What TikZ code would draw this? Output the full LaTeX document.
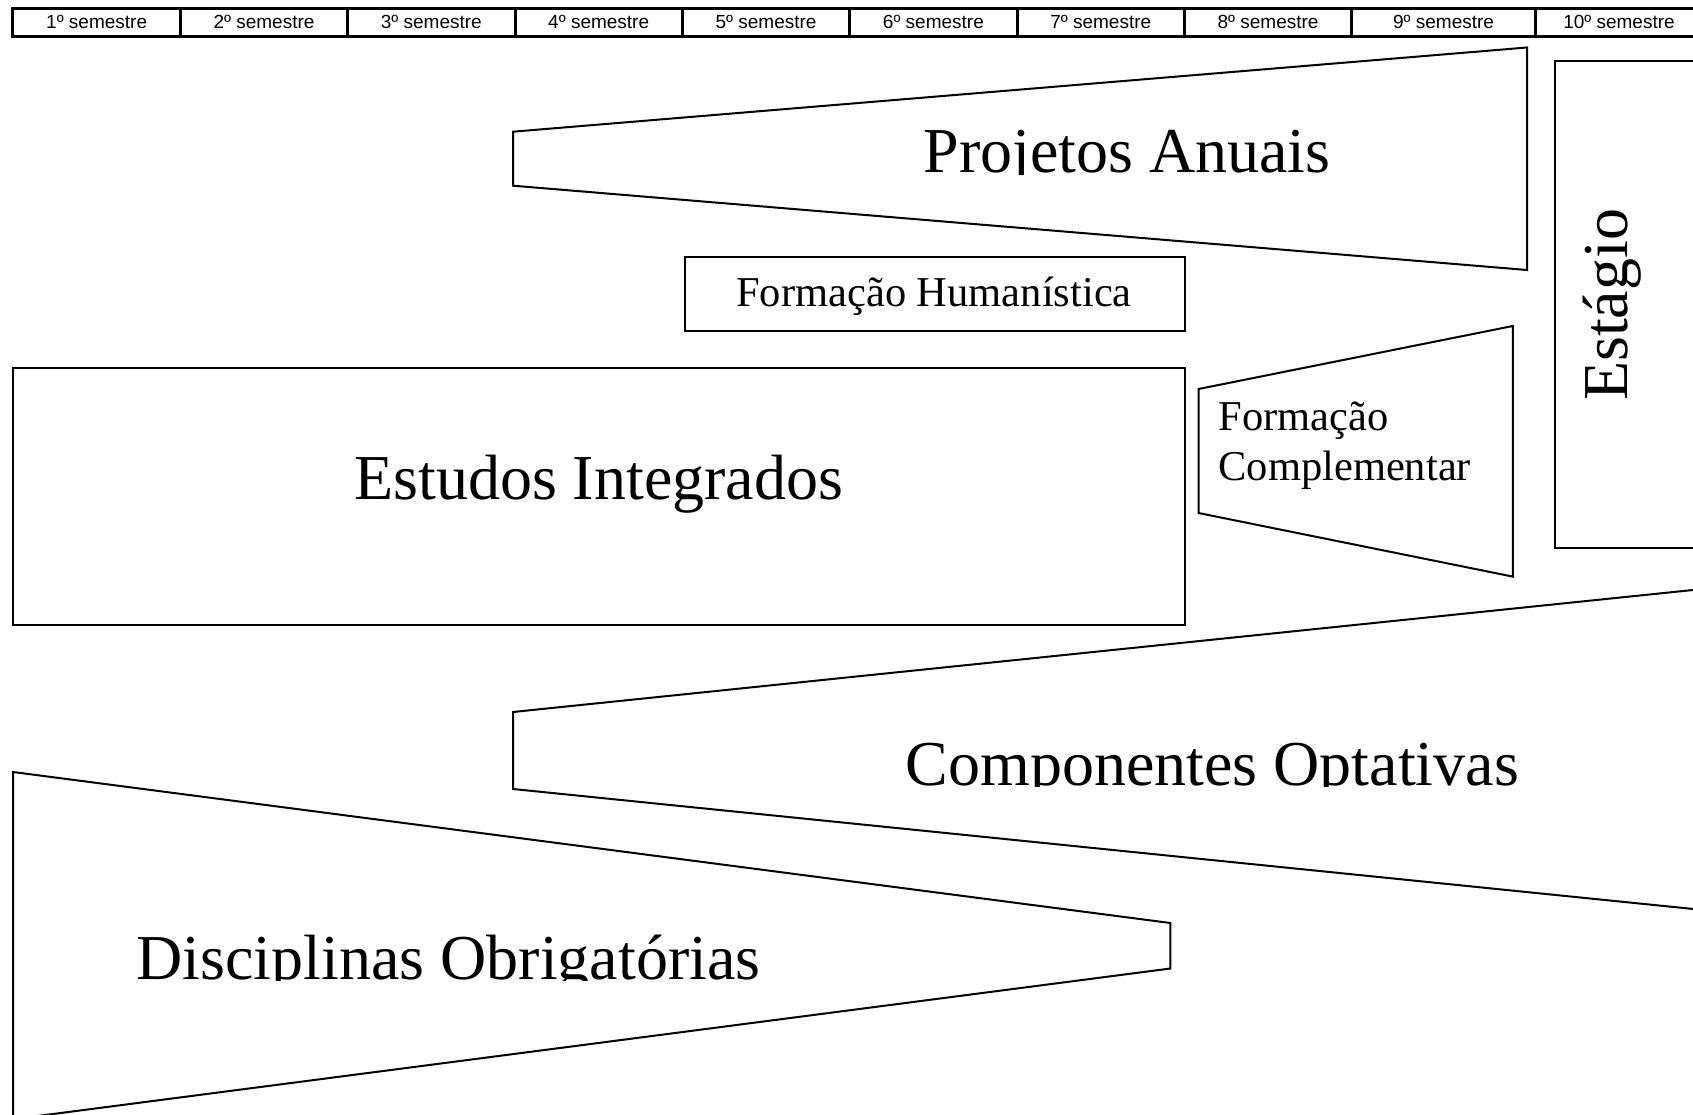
\documentclass[tikz,border=0pt]{standalone}
\usepackage{fontspec}
\setmainfont{Liberation Serif}
\newfontfamily\hdrfont{Liberation Sans}
\begin{document}
\begin{tikzpicture}[x=1pt,y=-1pt,
  semcell/.style={draw, line width=3pt, minimum height=28pt, minimum width=167.35pt, inner sep=0pt, font=\hdrfont\fontsize{19}{19}\selectfont},
  shapeline/.style={draw, line width=2pt, line join=miter},
  bigtext/.style={inner sep=0pt, font=\fontsize{64}{64}\selectfont},
  midtext/.style={inner sep=0pt, font=\fontsize{42.5}{42.5}\selectfont}]
\useasboundingbox (0,0) rectangle (1693,1115);
\clip (0,0) rectangle (1693,1115);

% header row
\node[semcell] (s1) at (96.65,22.2) {1º semestre};
\node[semcell] (s2) at (264.0,22.2) {2º semestre};
\node[semcell] (s3) at (431.35,22.2) {3º semestre};
\node[semcell] (s4) at (598.7,22.2) {4º semestre};
\node[semcell] (s5) at (766.05,22.2) {5º semestre};
\node[semcell] (s6) at (933.4,22.2) {6º semestre};
\node[semcell] (s7) at (1100.75,22.2) {7º semestre};
\node[semcell] (s8) at (1268.1,22.2) {8º semestre};
\node[semcell, minimum width=183.5pt] (s9) at (1443.55,22.2) {9º semestre};
\node[semcell] (s10) at (1619.0,22.2) {10º semestre};

% Projetos Anuais
\draw[shapeline] (513,131.7) -- (1527,47.5) -- (1527,270) -- (513,185.7) -- cycle;
\begin{scope}
  \clip (513,40) rectangle (1527,174.3);
  \node[bigtext, anchor=base] (pa) at (1127,172.7) {Projetos Anuais};
\end{scope}

% Formação Humanística
\draw[shapeline] (684.5,257) rectangle (1184.5,330.5);
\node[midtext, anchor=base] (fh) at (934,306.7) {Formação Humanística};

% Estudos Integrados
\draw[shapeline] (13,368) rectangle (1184.5,625);
\node[bigtext, anchor=base] (ei) at (598.7,499) {Estudos Integrados};

% Formação Complementar
\draw[shapeline] (1198.5,389) -- (1512.8,326) -- (1512.8,576.6) -- (1198.5,513) -- cycle;
\node[midtext, anchor=base west] (fc1) at (1218.2,430.7) {Formação};
\node[midtext, anchor=base west] (fc2) at (1218.2,480.3) {Complementar};

% Estágio
\draw[shapeline] (1555,61.5) rectangle (1720,547.5);
\node[bigtext, rotate=90, anchor=base] (es) at (1627,305) {Estágio};

% Componentes Optativas
\draw[shapeline] (513,712) -- (1720,587.2) -- (1720,911.7) -- (513,789) -- cycle;
\begin{scope}
  \clip (513,600) rectangle (1693,786.6);
  \node[bigtext, anchor=base] (co) at (1212.3,785) {Componentes Optativas};
\end{scope}

% Disciplinas Obrigatórias
\draw[shapeline] (13,772) -- (1170.4,923) -- (1170.4,968.5) -- (13,1119.2) -- cycle;
\begin{scope}
  \clip (13,780) rectangle (1170,980.6);
  \node[bigtext, anchor=base] (do) at (448.5,979) {Disciplinas Obrigatórias};
\end{scope}
\end{tikzpicture}
\end{document}
